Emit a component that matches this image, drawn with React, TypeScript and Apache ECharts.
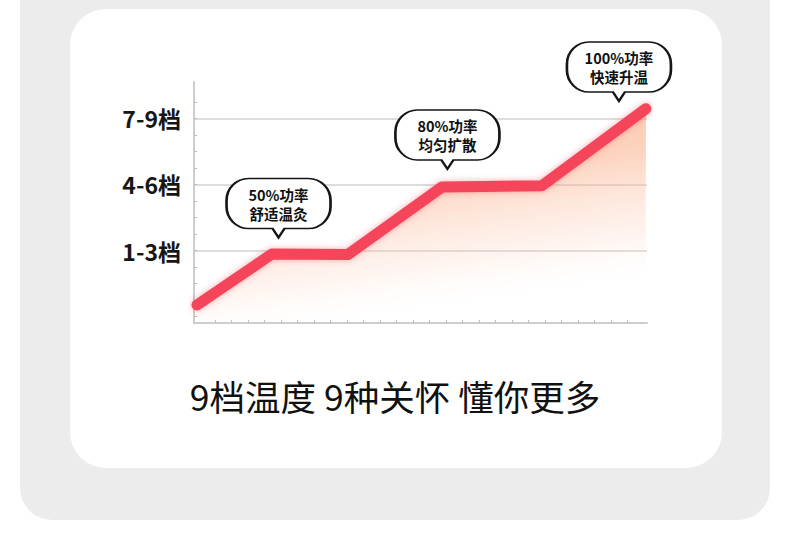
import React, { useEffect, useRef } from 'react';
import * as echarts from 'echarts';

// Heating curve: x runs along the timeline, y in minor-tick units (tiers sit on 4 / 8 / 12)
const CURVE_X = [-1.09, 3.45, 8.06, 13.75, 19.79, 26.1];
const CURVE_Y = [0.71, 3.79, 3.76, 7.85, 7.92, 12.58];

// Gear tiers on the y axis
const TIER_VALUES = [4, 8, 12];
const TIER_LABELS = ['1-3档', '4-6档', '7-9档'];

// Speech-bubble callouts (tip position in data units)
const CALLOUT_TEXT = ['50%功率\n舒适温灸', '80%功率\n均匀扩散', '100%功率\n快速升温'];
const CALLOUT_X = [3.85, 14.08, 24.47];
const CALLOUT_Y = [4.79, 8.94, 13.05];

const TITLE = '9档温度 9种关怀 懂你更多';

// Minor tick counts along each axis
const X_TICK_MAX = 25;
const Y_TICK_MAX = 13;
const TIER_MAX = 12;
const TIER_STEP = 4;

// Plot layout
const PLOT = { left: 194, top: 82, width: 453, height: 241 };
const X_RANGE = [-1.27, 26.17];
const Y_RANGE = [-0.38, 14.2];

const FONT = '"Noto Sans CJK SC", "Noto Sans", sans-serif';

// Rounded speech bubble with a small tail at the bottom centre
const BUBBLE_PATH =
  'path://M22 0 L82 0 C94.15 0 104 9.85 104 22 L104 28 C104 40.15 94.15 50 82 50 L58 50 L52 59 L46 50 L22 50 C9.85 50 0 40.15 0 28 L0 22 C0 9.85 9.85 0 22 0 Z';

export default function App() {
  const ref = useRef<HTMLDivElement>(null);

  useEffect(() => {
    if (!ref.current) return;
    const chart = echarts.init(ref.current, null, { renderer: 'svg' });

    const pxX = PLOT.width / (X_RANGE[1] - X_RANGE[0]);
    const pxY = PLOT.height / (Y_RANGE[1] - Y_RANGE[0]);
    const bottom = PLOT.top + PLOT.height;

    const axisLineStyle = { color: '#cdcdcd', width: 2 };
    const tickStyle = { color: '#bdbdbd', width: 1 };

    const hidden = (gridIndex: number) => ({
      type: 'value',
      gridIndex,
      show: false,
      min: 0,
      max: 1,
    });

    const option: any = {
      animation: false,
      textStyle: { fontFamily: FONT },
      title: {
        text: TITLE,
        left: 'center',
        top: 373,
        textStyle: { fontSize: 35.5, fontWeight: 'normal', color: '#111', fontFamily: FONT },
      },
      grid: [
        { left: PLOT.left, top: PLOT.top, width: PLOT.width, height: PLOT.height, outerBoundsMode: 'none' },
        {
          left: PLOT.left + (0 - X_RANGE[0]) * pxX,
          width: X_TICK_MAX * pxX,
          top: bottom - 20,
          height: 20,
          outerBoundsMode: 'none',
        },
        {
          left: PLOT.left,
          width: 20,
          top: PLOT.top + (Y_RANGE[1] - Y_TICK_MAX) * pxY,
          height: Y_TICK_MAX * pxY,
          outerBoundsMode: 'none',
        },
        {
          left: PLOT.left,
          width: PLOT.width,
          top: PLOT.top + (Y_RANGE[1] - TIER_MAX) * pxY,
          height: TIER_MAX * pxY,
          outerBoundsMode: 'none',
        },
      ],
      xAxis: [
        {
          type: 'value',
          gridIndex: 0,
          min: X_RANGE[0],
          max: X_RANGE[1],
          axisLine: { show: true, onZero: false, lineStyle: axisLineStyle },
          axisTick: { show: false },
          axisLabel: { show: false },
          splitLine: { show: false },
        },
        {
          type: 'value',
          gridIndex: 1,
          min: 0,
          max: X_TICK_MAX,
          interval: 1,
          axisLine: { show: false, onZero: false },
          axisTick: { show: true, inside: true, length: 3, lineStyle: tickStyle },
          axisLabel: { show: false },
          splitLine: { show: false },
        },
        hidden(2),
        hidden(3),
      ],
      yAxis: [
        {
          type: 'value',
          gridIndex: 0,
          min: Y_RANGE[0],
          max: Y_RANGE[1],
          axisLine: { show: true, onZero: false, lineStyle: axisLineStyle },
          axisTick: { show: false },
          axisLabel: { show: false },
          splitLine: { show: false },
        },
        hidden(1),
        {
          type: 'value',
          gridIndex: 2,
          min: 0,
          max: Y_TICK_MAX,
          interval: 1,
          axisLine: { show: false, onZero: false },
          axisTick: { show: true, inside: true, length: 3, lineStyle: tickStyle },
          axisLabel: { show: false },
          splitLine: { show: false },
        },
        {
          type: 'value',
          gridIndex: 3,
          min: 0,
          max: TIER_MAX,
          interval: TIER_STEP,
          axisLine: { show: false, onZero: false },
          axisTick: { show: false },
          axisLabel: {
            show: true,
            margin: 13,
            fontSize: 23,
            fontWeight: 'bold',
            color: '#161616',
            fontFamily: FONT,
            showMinLabel: false,
            formatter: (v: number) => {
              const i = TIER_VALUES.indexOf(v);
              return i >= 0 ? TIER_LABELS[i] : '';
            },
          },
          splitLine: {
            show: true,
            showMinLine: false,
            lineStyle: { color: '#d2d2d2', width: 1.5 },
          },
        },
      ],
      series: [
        {
          type: 'line',
          xAxisIndex: 0,
          yAxisIndex: 0,
          data: CURVE_X.map((x, i) => [x, CURVE_Y[i]]),
          symbol: 'none',
          showSymbol: false,
          clip: false,
          z: 3,
          lineStyle: {
            width: 11,
            color: '#f4445a',
            cap: 'round',
            join: 'round',
            shadowBlur: 6,
            shadowColor: 'rgba(244, 68, 90, 0.45)',
          },
          areaStyle: {
            origin: 'start',
            color: new echarts.graphic.LinearGradient(0, 0, 0.3, 1, [
              { offset: 0, color: 'rgba(248, 146, 96, 0.88)' },
              { offset: 0.45, color: 'rgba(250, 160, 115, 0.65)' },
              { offset: 0.8, color: 'rgba(252, 200, 175, 0.3)' },
              { offset: 1, color: 'rgba(255, 240, 232, 0)' },
            ]),
          },
          markPoint: {
            symbol: BUBBLE_PATH,
            symbolSize: [104, 59],
            symbolOffset: [0, '-50%'],
            symbolKeepAspect: false,
            itemStyle: { color: '#ffffff', borderColor: '#161616', borderWidth: 2 },
            label: {
              show: true,
              position: 'inside',
              offset: [0, -4.5],
              formatter: '{b}',
              color: '#111',
              fontSize: 14.5,
              lineHeight: 19,
              fontWeight: 'bold',
              fontFamily: FONT,
            },
            data: CALLOUT_TEXT.map((t, i) => ({
              name: t,
              value: t,
              coord: [CALLOUT_X[i], CALLOUT_Y[i]],
            })),
          },
        },
      ],
    };

    chart.setOption(option);
    return () => chart.dispose();
  }, []);

  return (
    <div style={{ position: 'absolute', left: 0, top: 0, width: 790, height: 549, background: '#fff', overflow: 'hidden' }}>
      <div
        style={{
          position: 'absolute',
          left: 20,
          top: -40,
          width: 750,
          height: 560,
          borderRadius: 32,
          background: '#ececec',
        }}
      />
      <div
        style={{
          position: 'absolute',
          left: 70,
          top: 9,
          width: 652,
          height: 459,
          borderRadius: 36,
          background: '#ffffff',
        }}
      />
      <div ref={ref} style={{ position: 'absolute', left: 0, top: 0, width: 790, height: 549 }} />
    </div>
  );
}
